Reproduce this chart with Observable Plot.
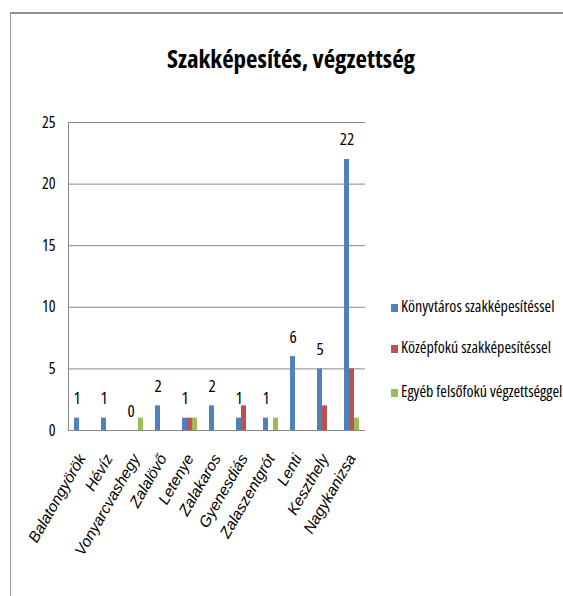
<!DOCTYPE html>
<html>
<head>
<meta charset="utf-8">
<script src="https://cdn.jsdelivr.net/npm/d3@7"></script>
<script src="https://cdn.jsdelivr.net/npm/@observablehq/plot@0.6"></script>
<style>
  html, body { margin: 0; padding: 0; background: #fff; }
  #wrap { position: relative; width: 563px; height: 596px; overflow: hidden;
          font-family: "Open Sans", sans-serif; font-stretch: 75%; }
  #wrap svg text { font-stretch: 75%; }
  #wrap svg g[aria-label="fx-axis tick label"] text { font-stretch: normal; }
  #border { position: absolute; left: 10px; top: 12px; right: -5px; bottom: -5px;
            border-top: 2px solid #8e8e8e; border-left: 1px solid #9a9a9a; }
  #title { position: absolute; left: 0; width: 582px; top: 46px; text-align: center;
           font-size: 25px; font-weight: bold; color: #000; line-height: 25px; }
  #chart { position: absolute; left: 0; top: 0; }
  #legend { position: absolute; left: 391px; top: 0; }
  .item { position: absolute; left: 0; white-space: nowrap; font-size: 16px; color: #000;
          line-height: 18px; }
  .sw { display: inline-block; width: 7px; height: 8px; margin-right: 3px; }
</style>
</head>
<body>
<div id="wrap">
  <div id="border"></div>
  <div id="title"></div>
  <div id="chart"></div>
  <div id="legend"></div>
</div>
<script>
const title = "Szakképesítés, végzettség";
const categories = ["Balatongyörök","Hévíz","Vonyarcvashegy","Zalalövő","Letenye","Zalakaros","Gyenesdiás","Zalaszentgrót","Lenti","Keszthely","Nagykanizsa"];
const series = ["Könyvtáros szakképesítéssel","Középfokú szakképesítéssel","Egyéb felsőfokú végzettséggel"];
const konyvtaros = [1,1,0,2,1,2,1,1,6,5,22];
const kozepfoku  = [0,0,0,0,1,0,2,0,0,2,5];
const egyeb      = [0,0,1,0,1,0,0,1,0,0,1];
const colors = ["#4F81BD","#C0504D","#9BBB59"];
const yTicks = [0,5,10,15,20,25];

const seriesValues = [konyvtaros, kozepfoku, egyeb];
const rows = [];
categories.forEach((c, i) => {
  series.forEach((s, j) => rows.push({cat: c, series: s, value: seriesValues[j][i]}));
});
const barRows = rows.filter(d => d.value > 0);
const labelRows = categories.map((c, i) => ({cat: c, series: series[0], value: konyvtaros[i]}));

document.getElementById("title").textContent = title;

const chart = Plot.plot({
  width: 563,
  height: 596,
  marginLeft: 65,
  marginRight: 195,
  marginTop: 122,
  marginBottom: 166,
  style: {fontFamily: '"Open Sans", sans-serif', fontSize: "16px", color: "#000", background: "transparent"},
  fx: {domain: categories, padding: 0, label: null},
  x: {domain: series, paddingInner: 0, paddingOuter: 0.8, axis: null},
  y: {domain: [0, 25], label: null},
  color: {domain: series, range: colors},
  marks: [
    Plot.ruleY(yTicks, {stroke: "#878787", strokeWidth: 1}),
    Plot.frame({anchor: "left", stroke: "#878787", fx: () => categories[0]}),
    Plot.axisY(yTicks, {tickSize: 0, tickPadding: 13, fontSize: 16, label: null}),
    Plot.axisFx({anchor: "bottom", tickRotate: -60, tickSize: 0, tickPadding: 25, fontSize: 15.5,
                 fontFamily: '"Liberation Sans", sans-serif', fontStyle: "italic", label: null}),
    Plot.barY(barRows, {fx: "cat", x: "series", y: "value", fill: "series"}),
    Plot.text(labelRows, {fx: "cat", x: "series", y: "value", text: d => String(d.value), dy: -14, lineAnchor: "bottom", fontSize: 17})
  ]
});
document.getElementById("chart").appendChild(chart);

const legendTops = [297, 338, 382];
const legend = document.getElementById("legend");
series.forEach((s, i) => {
  const item = document.createElement("div");
  item.className = "item";
  item.style.top = legendTops[i] + "px";
  const sw = document.createElement("span");
  sw.className = "sw";
  sw.style.background = colors[i];
  item.appendChild(sw);
  item.appendChild(document.createTextNode(s));
  legend.appendChild(item);
});
</script>
</body>
</html>
